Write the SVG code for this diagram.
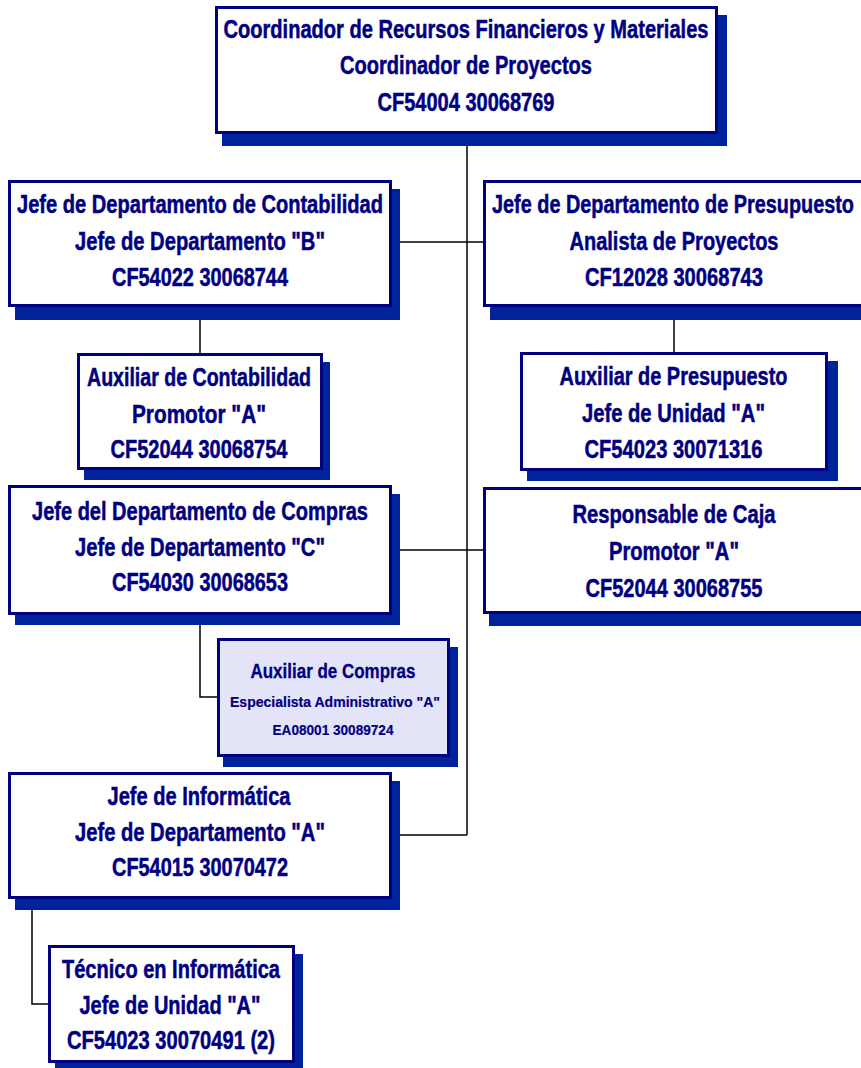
<svg xmlns="http://www.w3.org/2000/svg" width="861" height="1068" viewBox="0 0 861 1068">
<style>
.sh{fill:#00229A}
.bx{fill:#ffffff;stroke:#000080;stroke-width:3}
.bx2{fill:#E4E4F8;stroke:#000080;stroke-width:3}
.t{font-family:"Liberation Sans Narrow","Liberation Sans",Arial,sans-serif;font-weight:bold;font-size:25px;fill:#000080;stroke:#000080;stroke-width:0.5;text-anchor:middle}
.s1{font-size:20px;stroke-width:0.3}
.s2{font-size:15px;stroke-width:0.2}
.c{fill:none;stroke:#000000;stroke-width:1.5}
</style>
<rect width="861" height="1068" fill="#ffffff"/>
<g id="connectors">
<line class="c" x1="467" y1="134" x2="467" y2="835"/>
<line class="c" x1="392" y1="242" x2="483" y2="242"/>
<line class="c" x1="392" y1="550" x2="483" y2="550"/>
<line class="c" x1="392" y1="835" x2="467" y2="835"/>
<line class="c" x1="200" y1="307" x2="200" y2="353"/>
<line class="c" x1="674" y1="307" x2="674" y2="352"/>
<polyline class="c" points="200,615 200,697 217,697"/>
<polyline class="c" points="32,899 32,1004 48,1004"/>
</g>
<g id="n-coordinador">
<rect class="sh" x="222" y="15" width="505" height="131"/>
<rect class="bx" x="216.5" y="7.5" width="500" height="125"/>
<text class="t" x="466" y="37.5" textLength="485" lengthAdjust="spacingAndGlyphs">Coordinador de Recursos Financieros y Materiales</text>
<text class="t" x="466" y="74" textLength="252" lengthAdjust="spacingAndGlyphs">Coordinador de Proyectos</text>
<text class="t" x="466" y="111" textLength="177" lengthAdjust="spacingAndGlyphs">CF54004 30068769</text>
</g>
<g id="n-contabilidad">
<rect class="sh" x="15" y="189" width="385" height="131"/>
<rect class="bx" x="9.5" y="181.5" width="381" height="124"/>
<text class="t" x="200" y="213" textLength="366" lengthAdjust="spacingAndGlyphs">Jefe de Departamento de Contabilidad</text>
<text class="t" x="200" y="250" textLength="250" lengthAdjust="spacingAndGlyphs">Jefe de Departamento "B"</text>
<text class="t" x="200" y="286" textLength="176" lengthAdjust="spacingAndGlyphs">CF54022 30068744</text>
</g>
<g id="n-presupuesto">
<rect class="sh" x="490" y="189" width="385" height="131"/>
<rect class="bx" x="484.5" y="181.5" width="381" height="124"/>
<text class="t" x="673" y="213" textLength="362" lengthAdjust="spacingAndGlyphs">Jefe de Departamento de Presupuesto</text>
<text class="t" x="674" y="249.5" textLength="209" lengthAdjust="spacingAndGlyphs">Analista de Proyectos</text>
<text class="t" x="674" y="285.5" textLength="178" lengthAdjust="spacingAndGlyphs">CF12028 30068743</text>
</g>
<g id="n-aux-contabilidad">
<rect class="sh" x="84" y="362" width="246" height="118"/>
<rect class="bx" x="78.5" y="354.5" width="243" height="114"/>
<text class="t" x="199" y="386" textLength="224" lengthAdjust="spacingAndGlyphs">Auxiliar de Contabilidad</text>
<text class="t" x="199" y="422.5" textLength="134" lengthAdjust="spacingAndGlyphs">Promotor "A"</text>
<text class="t" x="199" y="458" textLength="177" lengthAdjust="spacingAndGlyphs">CF52044 30068754</text>
</g>
<g id="n-aux-presupuesto">
<rect class="sh" x="527" y="361" width="311" height="120"/>
<rect class="bx" x="521.5" y="353.5" width="305" height="116"/>
<text class="t" x="673.5" y="385" textLength="228" lengthAdjust="spacingAndGlyphs">Auxiliar de Presupuesto</text>
<text class="t" x="673.5" y="421.5" textLength="183" lengthAdjust="spacingAndGlyphs">Jefe de Unidad "A"</text>
<text class="t" x="673.5" y="458" textLength="178" lengthAdjust="spacingAndGlyphs">CF54023 30071316</text>
</g>
<g id="n-compras">
<rect class="sh" x="15" y="494" width="385" height="131"/>
<rect class="bx" x="9.5" y="486.5" width="381" height="127"/>
<text class="t" x="200" y="520" textLength="336" lengthAdjust="spacingAndGlyphs">Jefe del Departamento de Compras</text>
<text class="t" x="200" y="555.5" textLength="250" lengthAdjust="spacingAndGlyphs">Jefe de Departamento "C"</text>
<text class="t" x="200" y="591" textLength="176" lengthAdjust="spacingAndGlyphs">CF54030 30068653</text>
</g>
<g id="n-caja">
<rect class="sh" x="489" y="496" width="386" height="130"/>
<rect class="bx" x="484.5" y="488.5" width="381" height="124"/>
<text class="t" x="674" y="523" textLength="203" lengthAdjust="spacingAndGlyphs">Responsable de Caja</text>
<text class="t" x="674" y="560" textLength="130" lengthAdjust="spacingAndGlyphs">Promotor "A"</text>
<text class="t" x="674" y="597" textLength="177" lengthAdjust="spacingAndGlyphs">CF52044 30068755</text>
</g>
<g id="n-aux-compras">
<rect class="sh" x="223" y="647" width="235" height="120"/>
<rect class="bx2" x="218.5" y="639.5" width="230" height="116"/>
<text class="t s1" x="333" y="678" textLength="165" lengthAdjust="spacingAndGlyphs">Auxiliar de Compras</text>
<text class="t s2" x="335" y="707" textLength="210" lengthAdjust="spacingAndGlyphs">Especialista Administrativo "A"</text>
<text class="t s2" x="333" y="735" textLength="121" lengthAdjust="spacingAndGlyphs">EA08001 30089724</text>
</g>
<g id="n-informatica">
<rect class="sh" x="15" y="781" width="385" height="129"/>
<rect class="bx" x="9.5" y="773.5" width="381" height="124"/>
<text class="t" x="199" y="805" textLength="183" lengthAdjust="spacingAndGlyphs">Jefe de Informática</text>
<text class="t" x="200" y="840.5" textLength="250" lengthAdjust="spacingAndGlyphs">Jefe de Departamento "A"</text>
<text class="t" x="200" y="876" textLength="176" lengthAdjust="spacingAndGlyphs">CF54015 30070472</text>
</g>
<g id="n-tecnico">
<rect class="sh" x="55" y="954" width="248" height="114"/>
<rect class="bx" x="49.5" y="946.5" width="244" height="115"/>
<text class="t" x="171" y="978" textLength="218" lengthAdjust="spacingAndGlyphs">Técnico en Informática</text>
<text class="t" x="170" y="1013.5" textLength="181" lengthAdjust="spacingAndGlyphs">Jefe de Unidad "A"</text>
<text class="t" x="171" y="1049" textLength="208" lengthAdjust="spacingAndGlyphs">CF54023 30070491 (2)</text>
</g>
</svg>
